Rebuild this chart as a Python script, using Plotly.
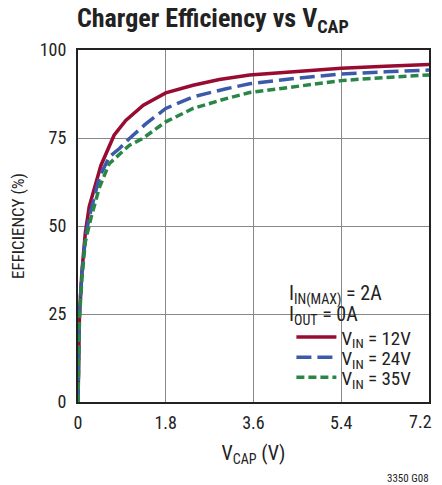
import plotly.graph_objects as go

# Data
v12 = [0, 0.03, 0.08, 0.15, 0.23, 0.47, 0.74, 0.98, 1.34, 1.8, 2.36, 2.9, 3.52, 4.5, 5.4, 6.3, 7.2]
e12 = [0, 25, 37, 48, 55.5, 67.2, 75.8, 80, 84.3, 87.8, 90, 91.6, 92.9, 94, 94.8, 95.4, 95.9]

v24 = [0, 0.03, 0.08, 0.15, 0.23, 0.44, 0.64, 0.85, 1.05, 1.39, 1.8, 2.36, 3.04, 3.52, 4.5, 5.4, 6.3, 7.2]
e24 = [0, 25, 36.5, 46.5, 52.5, 63.9, 69.6, 72, 74.8, 79, 83.4, 86.7, 89, 90.4, 92, 93.2, 93.8, 94.3]

v35 = [0, 0.03, 0.08, 0.15, 0.27, 0.44, 0.64, 0.85, 1.05, 1.32, 1.8, 2.36, 3.04, 3.52, 4.5, 5.4, 6.3, 7.2]
e35 = [0, 24, 35, 45.5, 52.5, 61, 67.7, 70.5, 72.9, 74.8, 79.6, 83.4, 86.2, 87.9, 89.8, 91.3, 92.2, 92.9]

x_ticks = [0, 1.8, 3.6, 5.4, 7.2]
x_tick_labels = ["0", "1.8", "3.6", "5.4", "7.2"]
y_ticks = [0, 25, 50, 75, 100]
y_tick_labels = ["0", "25", "50", "75", "100"]

FONT = "Liberation Sans Narrow, Arial Narrow, Roboto Condensed, Liberation Sans, sans-serif"
RED = "rgb(152,12,50)"
BLUE = "rgb(60,90,170)"
GREEN = "rgb(42,134,70)"
TXT = "#222"

fig = go.Figure()
fig.add_trace(go.Scatter(x=v12, y=e12, mode="lines", name="V<sub>IN</sub> = 12V",
                         line=dict(color=RED, width=3.5), legend="legend"))
fig.add_trace(go.Scatter(x=v24, y=e24, mode="lines", name="V<sub>IN</sub> = 24V",
                         line=dict(color=BLUE, width=3.5, dash="15px,6px"), legend="legend2"))
fig.add_trace(go.Scatter(x=v35, y=e35, mode="lines", name="V<sub>IN</sub> = 35V",
                         line=dict(color=GREEN, width=3.5, dash="8px,4px"), legend="legend3"))

# white box behind legend text
fig.add_shape(type="rect", xref="x", yref="y", x0=4.2, x1=7.15, y0=2, y1=33.5,
              fillcolor="white", line=dict(width=0), layer="below")

fig.add_annotation(x=4.29, y=30.4, xref="x", yref="y", xanchor="left", yanchor="middle",
                   text="I<sub>IN(MAX)</sub> = 2A", showarrow=False,
                   font=dict(family=FONT, size=20, color=TXT))
fig.add_annotation(x=4.29, y=24.6, xref="x", yref="y", xanchor="left", yanchor="middle",
                   text="I<sub>OUT</sub> = 0A", showarrow=False,
                   font=dict(family=FONT, size=20, color=TXT))
fig.add_annotation(x=1.0, y=0.0, xref="paper", yref="paper", xanchor="right", yanchor="middle",
                   text="3350 G08", showarrow=False, yshift=-76, xshift=2,
                   font=dict(family=FONT, size=11, color=TXT))
# last x tick label drawn right-aligned so it stays inside the page edge
fig.add_annotation(x=x_ticks[-1], y=0.0, xref="x", yref="paper", xanchor="right", yanchor="middle",
                   text=x_tick_labels[-1], showarrow=False, yshift=-19, xshift=5,
                   font=dict(family=FONT, size=18, color=TXT))
shown_x_labels = x_tick_labels[:-1] + [""]

leg_common = dict(x=0.608, xanchor="left", yanchor="middle", bgcolor="rgba(0,0,0,0)",
                  font=dict(family=FONT, size=19, color=TXT), itemwidth=40)

fig.update_layout(
    width=434, height=477,
    margin=dict(l=70, r=13, t=42, b=83, autoexpand=False),
    paper_bgcolor="white", plot_bgcolor="white",
    font=dict(family=FONT, size=18, color=TXT),
    title=dict(text="<b>Charger Efficiency vs V<sub>CAP</sub></b>", x=0.472, xanchor="center",
               y=0.979, yanchor="middle", font=dict(family=FONT, size=26, color=TXT)),
    showlegend=True,
    legend=dict(y=0.184, **leg_common),
    legend2=dict(y=0.127, **leg_common),
    legend3=dict(y=0.070, **leg_common),
    xaxis=dict(range=[0, 7.2], tickvals=x_ticks, ticktext=shown_x_labels,
               showgrid=True, gridcolor="#888", gridwidth=1.3,
               showline=True, linecolor="#222", linewidth=2, mirror=True,
               ticks="", zeroline=False, automargin=False, ticklabelstandoff=3,
               title=dict(text="V<sub>CAP</sub> (V)", standoff=14,
                          font=dict(family=FONT, size=20))),
    yaxis=dict(range=[0, 100], tickvals=y_ticks, ticktext=y_tick_labels,
               showgrid=True, gridcolor="#888", gridwidth=1.3,
               showline=True, linecolor="#222", linewidth=2, mirror=True,
               ticks="", zeroline=False, automargin=False, ticklabelstandoff=6,
               title=dict(text="EFFICIENCY (%)", standoff=12,
                          font=dict(family=FONT, size=17))),
)

fig.write_html("out.html")
